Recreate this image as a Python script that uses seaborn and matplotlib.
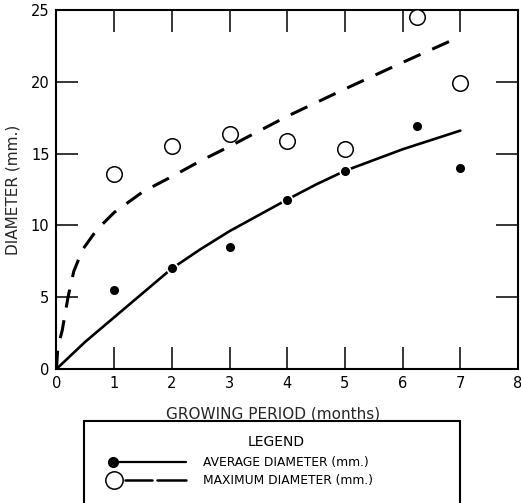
import matplotlib
matplotlib.use("Agg")
import matplotlib.pyplot as plt
from matplotlib.lines import Line2D
from matplotlib.patches import Rectangle
import seaborn as sns
import pandas as pd

# Measured diameters by month of growth
months = [1, 2, 3, 4, 5, 6.25, 7]
avg_diameter = [5.5, 7.0, 8.5, 11.8, 13.8, 16.9, 14.0]
max_diameter = [13.6, 15.5, 16.4, 15.9, 15.3, 24.5, 19.9]

# Fitted growth curves
avg_curve_x = [0, 0.5, 1, 1.5, 2, 2.5, 3, 3.5, 4, 4.5, 5, 5.5, 6, 6.5, 7]
avg_curve_y = [0, 1.9, 3.6, 5.3, 7.0, 8.35, 9.6, 10.7, 11.8, 12.85, 13.8, 14.55, 15.3, 15.95, 16.6]
max_curve_x = [0, 0.02, 0.05, 0.1, 0.2, 0.3, 0.45, 0.7, 1, 1.5, 2, 2.5, 3, 4, 5, 6, 7]
max_curve_y = [0, 1.3, 1.9, 2.7, 5.0, 6.8, 8.3, 9.7, 10.9, 12.35, 13.4, 14.5, 15.5, 17.6, 19.5, 21.35, 23.15]

x_ticks = [0, 1, 2, 3, 4, 5, 6, 7, 8]
y_ticks = [0, 5, 10, 15, 20, 25]

sns.set_style("ticks")
plt.rcParams["font.family"] = ["DejaVu Sans"]
plt.rcParams["text.color"] = "black"

fig = plt.figure(figsize=(5.21, 5.03), dpi=100)
ax = fig.add_axes([0.1084, 0.2664, 0.8858, 0.7137])

points = pd.DataFrame({"month": months, "avg": avg_diameter, "max": max_diameter})
avg_fit = pd.DataFrame({"x": avg_curve_x, "y": avg_curve_y})
max_fit = pd.DataFrame({"x": max_curve_x, "y": max_curve_y})

sns.lineplot(data=avg_fit, x="x", y="y", ax=ax, color="black", lw=1.9,
             estimator=None, sort=False, zorder=2)
sns.lineplot(data=max_fit, x="x", y="y", ax=ax, color="black", lw=2.2,
             estimator=None, sort=False, zorder=2)
max_line = ax.lines[-1]
max_line.set_linestyle((0, (6.0, 4.2)))
max_line.set_dash_capstyle("butt")

sns.scatterplot(data=points, x="month", y="avg", ax=ax, s=60, color="black",
                edgecolor="white", linewidth=1.2, zorder=4)
sns.scatterplot(data=points, x="month", y="max", ax=ax, s=125, color="white",
                edgecolor="black", linewidth=1.1, zorder=4)

ax.set_xlim(0, 8)
ax.set_ylim(0, 25)
ax.set_xticks(x_ticks)
ax.set_yticks(y_ticks)
ax.tick_params(direction="in", length=16, width=1.1, color="black",
               labelsize=10.5, pad=5, top=True, right=True, labelcolor="black")
for side in ["left", "right", "top", "bottom"]:
    ax.spines[side].set_visible(True)
    ax.spines[side].set_linewidth(1.5)
    ax.spines[side].set_color("black")

ax.set_xlabel("GROWING PERIOD (months)", fontsize=11)
ax.set_ylabel("DIAMETER (mm.)", fontsize=11)
ax.xaxis.set_label_coords(0.469, -0.104)
ax.yaxis.set_label_coords(-0.077, 0.5)

# Legend box beneath the axes
fig.add_artist(Rectangle((0.1612, -0.05), 0.7217, 0.213, transform=fig.transFigure,
                         fill=False, edgecolor="black", lw=1.5))
fig.text(0.53, 0.1213, "LEGEND", ha="center", va="center", fontsize=10)

fig.add_artist(Line2D([0.2169, 0.357], [0.0815, 0.0815], transform=fig.transFigure,
                      color="black", lw=1.6))
fig.add_artist(Line2D([0.2169], [0.0815], transform=fig.transFigure, marker="o",
                      markersize=7, color="black", lw=0))
fig.text(0.39, 0.0815, "AVERAGE DIAMETER (mm.)", ha="left", va="center", fontsize=8.8)

fig.add_artist(Line2D([0.240, 0.292], [0.0457, 0.0457], transform=fig.transFigure,
                      color="black", lw=1.8))
fig.add_artist(Line2D([0.301, 0.357], [0.0457, 0.0457], transform=fig.transFigure,
                      color="black", lw=1.8))
fig.add_artist(Line2D([0.2188], [0.0457], transform=fig.transFigure, marker="o",
                      markersize=12.5, markerfacecolor="white", markeredgecolor="black",
                      markeredgewidth=1.1, lw=0))
fig.text(0.39, 0.0457, "MAXIMUM DIAMETER (mm.)", ha="left", va="center", fontsize=8.8)

fig.savefig("out.png", dpi=100)
